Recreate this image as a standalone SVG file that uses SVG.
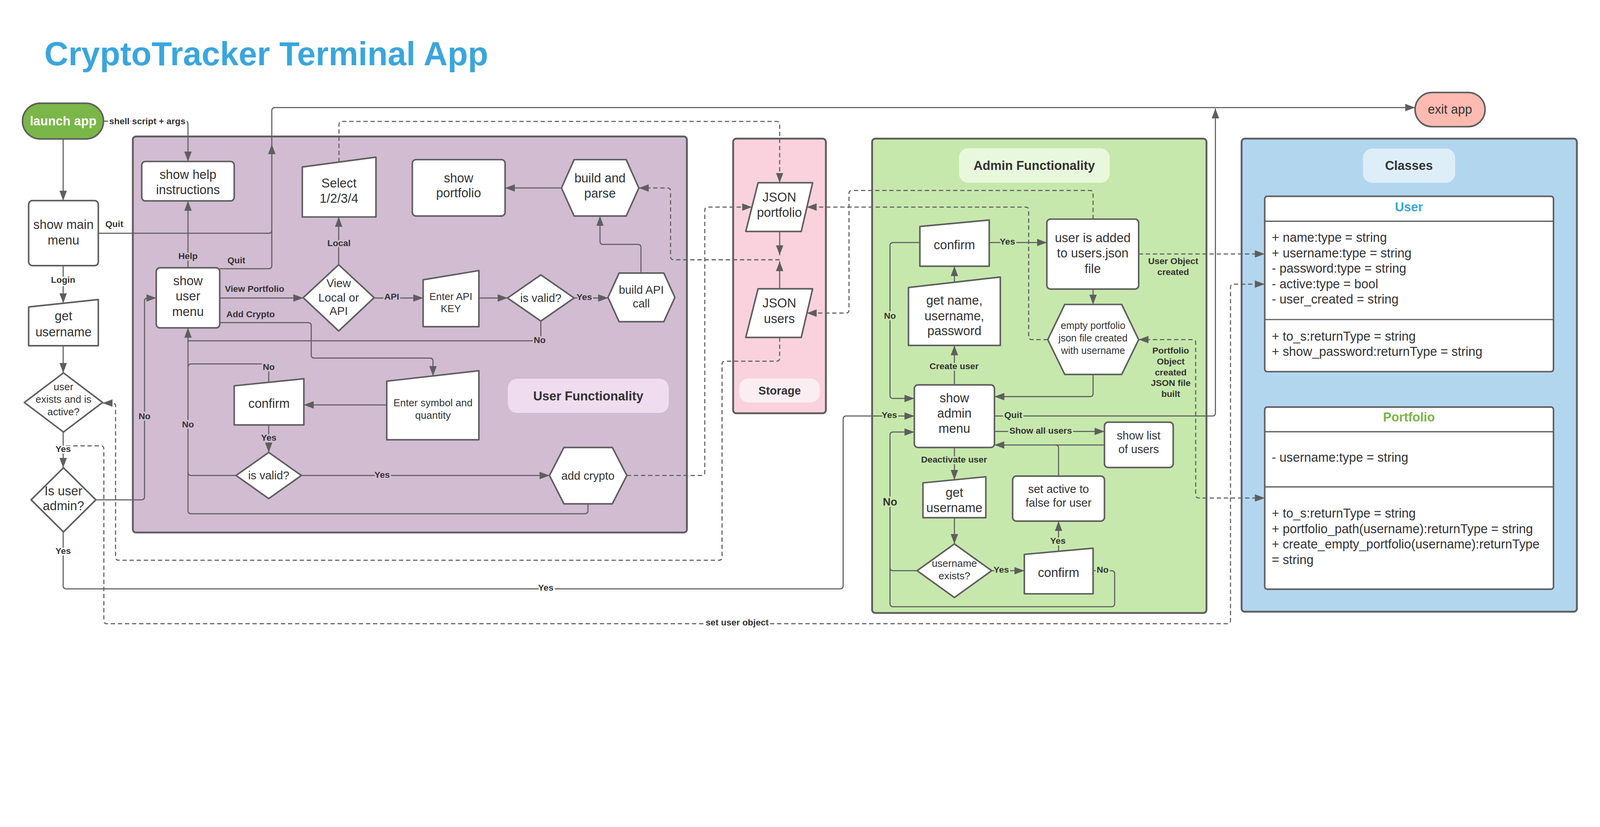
<svg xmlns="http://www.w3.org/2000/svg" width="5192" height="2117" viewBox="0 0 5192 2117">
<defs>
<style>
@media (max-width: 5150px) { :root { width: 100vw; height: 40.775vw; } }
.n{fill:#fff;stroke:#5e5e5e;stroke-width:5;stroke-linejoin:round}
.box{stroke:#5e5e5e;stroke-width:6}
.c{fill:none;stroke:#5e5e5e;stroke-width:3.5;stroke-linejoin:round}
.d{fill:none;stroke:#5e5e5e;stroke-width:3.5;stroke-dasharray:14 9;stroke-linejoin:round}
.t{font-family:"Liberation Sans",Arial,sans-serif;font-size:41px;fill:#333;text-anchor:middle}
.s37{font-size:37px}
.s33{font-size:33px}
.s32{font-size:32px}
.b{font-weight:bold}
.l{font-family:"Liberation Sans",Arial,sans-serif;font-size:29px;font-weight:bold;fill:#333;text-anchor:middle;paint-order:stroke;stroke-width:10px;stroke-linejoin:round}
.lw{stroke:#fff}.lp{stroke:#d1bcd2}.lg{stroke:#c7e8ac}
.cls{font-family:"Liberation Sans",Arial,sans-serif;font-size:41px;fill:#333}
</style>
<marker id="ah" markerUnits="userSpaceOnUse" markerWidth="34" markerHeight="24" refX="32" refY="12" orient="auto-start-reverse"><path d="M0,0 L32,12 L0,24 z" fill="#5e5e5e"/></marker>
</defs>
<rect width="5192" height="2117" fill="#fff"/>
<text id="title" x="144" y="212" font-family="Liberation Sans, Arial, sans-serif" font-weight="bold" font-size="108" fill="#3aa6dd">CryptoTracker Terminal App</text>

<g id="containers">
<g id="user-functionality-area">
<rect class="box" x="431" y="443" width="1798" height="1285" rx="10" fill="#d1bcd2"/>
<rect x="1648" y="1229" width="522" height="111" rx="30" fill="#efdcef"/>
<text class="t b" x="1909" y="1299">User Functionality</text>
</g>
<g id="storage-area">
<rect class="box" x="2379" y="450" width="301" height="891" rx="10" fill="#f9d2de"/>
<rect x="2399" y="1228" width="261" height="78" rx="30" fill="#fbeef3"/>
<text class="t b s37" x="2530" y="1280">Storage</text>
</g>
<g id="admin-area">
<rect class="box" x="2830" y="450" width="1085" height="1539" rx="10" fill="#c7e8ac"/>
<rect x="3112" y="481" width="489" height="112" rx="30" fill="#e8f8dc"/>
<text class="t b" x="3356" y="551">Admin Functionality</text>
</g>
<g id="classes-area">
<rect class="box" x="4029" y="450" width="1088" height="1535" rx="10" fill="#b3d6ef"/>
<rect x="4423" y="482" width="299" height="111" rx="30" fill="#ddeef9"/>
<text class="t b" x="4572" y="551">Classes</text>
</g>
</g>

<g id="connectors">
<path class="c" marker-end="url(#ah)" d="M205,451 V651"/>
<path class="c" marker-end="url(#ah)" d="M205,862 V984"/>
<path class="c" marker-end="url(#ah)" d="M205,1122 V1210"/>
<path class="c" marker-end="url(#ah)" d="M205,1402 V1518"/>
<path class="c" marker-end="url(#ah)" d="M311,1622 H459 Q469,1622 469,1612 V977 Q469,967 479,967 H507"/>
<path class="c" marker-end="url(#ah)" d="M205,1726 V1901 Q205,1911 215,1911 H2726 Q2736,1911 2736,1901 V1360 Q2736,1350 2746,1350 H2967"/>
<path class="c" marker-end="url(#ah)" d="M336,393 H600 Q610,393 610,403 V524"/>
<path class="c" d="M319,757 H872 Q882,757 882,747"/>
<path class="c" marker-end="url(#ah)" d="M713,872 H872 Q882,872 882,862 V359 Q882,349 892,349 H4592"/>
<polygon points="870,500 894,500 882,468" fill="#5e5e5e"/>
<path class="c" marker-end="url(#ah)" d="M610,869 V652"/>
<path class="c" marker-end="url(#ah)" d="M713,967 H984"/>
<path class="c" marker-end="url(#ah)" d="M713,1047 H1000 Q1010,1047 1010,1057 V1152 Q1010,1162 1020,1162 H1395 Q1405,1162 1405,1172 V1220"/>
<path class="c" marker-end="url(#ah)" d="M1099,859 V704"/>
<path class="c" marker-end="url(#ah)" d="M1214,967 H1373"/>
<path class="c" marker-end="url(#ah)" d="M1554,967 H1647"/>
<path class="c" marker-end="url(#ah)" d="M1863,967 H1973"/>
<path class="c" d="M1755,1042 V1096 Q1755,1106 1745,1106 H610"/>
<path class="c" marker-end="url(#ah)" d="M2080,886 V803 Q2080,793 2070,793 H1957 Q1947,793 1947,783 V701"/>
<path class="c" marker-end="url(#ah)" d="M1822,610 H1639"/>
<path class="c" marker-end="url(#ah)" d="M1255,1314 H986"/>
<path class="c" d="M872,1241 V1191 Q872,1181 862,1181 H620 Q610,1181 610,1191"/>
<path class="c" marker-end="url(#ah)" d="M872,1379 V1468"/>
<path class="c" d="M766,1543 H620 Q610,1543 610,1533"/>
<path class="c" marker-end="url(#ah)" d="M978,1543 H1783"/>
<path class="c" marker-end="url(#ah)" d="M1908,1635 V1657 Q1908,1667 1898,1667 H620 Q610,1667 610,1657 V1064"/>
<path class="c" marker-end="url(#ah)" d="M2530,751 V828"/>
<path class="c" marker-end="url(#ah)" d="M2530,937 V848"/>
<path class="c" marker-end="url(#ah)" d="M3097,1249 V1121"/>
<path class="c" marker-end="url(#ah)" d="M3097,916 V864"/>
<path class="c" marker-end="url(#ah)" d="M3210,787 H3397"/>
<path class="c" marker-end="url(#ah)" d="M2985,787 H2898 Q2888,787 2888,797 V1283 Q2888,1293 2898,1293 H2967"/>
<path class="c" marker-end="url(#ah)" d="M3547,938 V988"/>
<path class="c" marker-end="url(#ah)" d="M3547,1215 V1277 Q3547,1287 3537,1287 H3227"/>
<path class="c" marker-end="url(#ah)" d="M3227,1350 H3934 Q3944,1350 3944,1340 V352"/>
<path class="c" marker-end="url(#ah)" d="M3227,1400 H3584"/>
<path class="c" marker-end="url(#ah)" d="M3584,1444 H3227"/>
<path class="c" d="M3435,1545 V1454 Q3435,1444 3425,1444"/>
<path class="c" marker-end="url(#ah)" d="M3097,1452 V1557"/>
<path class="c" marker-end="url(#ah)" d="M3097,1680 V1765"/>
<path class="c" marker-end="url(#ah)" d="M3218,1852 H3324"/>
<path class="c" marker-end="url(#ah)" d="M3435,1789 V1691"/>
<path class="c" marker-end="url(#ah)" d="M3547,1852 H3607 Q3617,1852 3617,1862 V1959 Q3617,1969 3607,1969 H2898 Q2888,1969 2888,1959 V1412 Q2888,1402 2898,1402 H2967"/>
<path class="c" d="M2976,1852 H2898 Q2888,1852 2888,1842"/>

<path class="d" marker-end="url(#ah)" d="M1100,526 V404 Q1100,394 1110,394 H2520 Q2530,394 2530,404 V593"/>
<path class="d" marker-end="url(#ah)" d="M2530,843 H2186 Q2176,843 2176,833 V620 Q2176,610 2166,610 H2073"/>
<path class="d" marker-end="url(#ah)" d="M2034,1543 H2277 Q2287,1543 2287,1533 V682 Q2287,672 2297,672 H2440"/>
<path class="d" marker-end="url(#ah)" d="M3400,1102 H3348 Q3338,1102 3338,1092 V682 Q3338,672 3328,672 H2618"/>
<path class="d" marker-end="url(#ah)" d="M3547,711 V628 Q3547,618 3537,618 H2765 Q2755,618 2755,628 V1006 Q2755,1016 2745,1016 H2618"/>
<path class="d" marker-end="url(#ah)" d="M2530,1095 V1162 Q2530,1172 2520,1172 H2353 Q2343,1172 2343,1182 V1808 Q2343,1818 2333,1818 H385 Q375,1818 375,1808 V1318 Q375,1308 365,1308 H333"/>
<path class="d" marker-end="url(#ah)" d="M3695,824 H4104"/>
<path class="d" marker-start="url(#ah)" marker-end="url(#ah)" d="M3695,1102 H3870 Q3880,1102 3880,1112 V1606 Q3880,1616 3890,1616 H4104"/>
<path class="d" marker-end="url(#ah)" d="M215,1447 H327 Q337,1447 337,1457 V2014 Q337,2024 347,2024 H3983 Q3993,2024 3993,2014 V932 Q3993,922 4003,922 H4104"/>

<g id="labels">
<text class="l lw" x="478" y="403">shell script + args</text>
<text class="l lw" x="371" y="737">Quit</text>
<text class="l lw" x="205" y="918">Login</text>
<text class="l lw" x="205" y="1467">Yes</text>
<text class="l lw" x="205" y="1798">Yes</text>
<text class="l lp" x="469" y="1360">No</text>
<text class="l lp" x="610" y="841">Help</text>
<text class="l lp" x="767" y="854">Quit</text>
<text class="l lp" x="826" y="947">View Portfolio</text>
<text class="l lp" x="813" y="1029">Add Crypto</text>
<text class="l lp" x="1100" y="798">Local</text>
<text class="l lp" x="1271" y="972">API</text>
<text class="l lp" x="1896" y="974">Yes</text>
<text class="l lp" x="1751" y="1113">No</text>
<text class="l lp" x="872" y="1200">No</text>
<text class="l lp" x="872" y="1430">Yes</text>
<text class="l lp" x="610" y="1387">No</text>
<text class="l lp" x="1240" y="1551">Yes</text>
<text class="l lw" x="1771" y="1917">Yes</text>
<text class="l lw" x="2392" y="2030">set user object</text>
<text class="l lg" x="3269" y="793">Yes</text>
<text class="l lg" x="2888" y="1035">No</text>
<text class="l lg" x="3096" y="1198">Create user</text>
<text class="l lg" x="2886" y="1356">Yes</text>
<text class="l lg" x="3288" y="1356">Quit</text>
<text class="l lg" x="3377" y="1407">Show all users</text>
<text class="l lg" x="3096" y="1501">Deactivate user</text>
<text class="l lg" x="2888" y="1640" style="font-size:35px">No</text>
<text class="l lg" x="3249" y="1859">Yes</text>
<text class="l lg" x="3433" y="1764">Yes</text>
<text class="l lg" x="3578" y="1859">No</text>
<text class="l lg" x="3807" y="857">User Object</text>
<text class="l lg" x="3807" y="892">created</text>
<text class="l lg" x="3799" y="1147">Portfolio</text>
<text class="l lg" x="3799" y="1183">Object</text>
<text class="l lg" x="3799" y="1218">created</text>
<text class="l lg" x="3799" y="1253">JSON file</text>
<text class="l lg" x="3799" y="1288">built</text>
</g>
</g>

<g id="launch-app"><rect x="73" y="335" width="263" height="116" rx="58" fill="#7ab648" stroke="#5e5e5e" stroke-width="5"/><text class="t b" x="205" y="407" style="fill:#fff">launch app</text></g>
<g id="show-main-menu"><rect class="n" x="93" y="651" width="226" height="211" rx="12"/><text class="t" x="206" y="743">show main</text><text class="t" x="206" y="793">menu</text></g>
<g id="get-username"><polygon class="n" points="93,996 319,972 319,1122 93,1122"/><text class="t" x="206" y="1040">get</text><text class="t" x="206" y="1091">username</text></g>
<g id="user-exists"><polygon class="n" points="206,1210 333,1306 206,1402 79,1306"/><text class="t s33" x="206" y="1266">user</text><text class="t s33" x="206" y="1307">exists and is</text><text class="t s33" x="206" y="1347">active?</text></g>
<g id="is-admin"><polygon class="n" points="206,1518 311,1622 206,1726 101,1622"/><text class="t" x="206" y="1607">Is user</text><text class="t" x="206" y="1656">admin?</text></g>

<g id="show-help"><rect class="n" x="460" y="524" width="300" height="128" rx="12"/><text class="t" x="610" y="581">show help</text><text class="t" x="610" y="630">instructions</text></g>
<g id="show-user-menu"><rect class="n" x="507" y="869" width="206" height="195" rx="12"/><text class="t" x="610" y="926">show</text><text class="t" x="610" y="975">user</text><text class="t" x="610" y="1025">menu</text></g>
<g id="select"><polygon class="n" points="981,542 1220,510 1220,704 981,704"/><text class="t" x="1100" y="608">Select</text><text class="t" x="1100" y="658">1/2/3/4</text></g>
<g id="show-portfolio"><rect class="n" x="1338" y="518" width="301" height="183" rx="12"/><text class="t" x="1488" y="592">show</text><text class="t" x="1488" y="640">portfolio</text></g>
<g id="build-and-parse"><polygon class="n" points="1822,610 1863,518 2032,518 2073,610 2032,701 1863,701"/><text class="t" x="1947" y="592">build and</text><text class="t" x="1947" y="642">parse</text></g>
<g id="view-local-or-api"><polygon class="n" points="1099,859 1214,966 1099,1074 984,966"/><text class="t s37" x="1099" y="932">View</text><text class="t s37" x="1099" y="979">Local or</text><text class="t s37" x="1099" y="1022">API</text></g>
<g id="enter-api-key"><polygon class="n" points="1373,908 1554,878 1554,1060 1373,1060"/><text class="t s33" x="1463" y="973">Enter API</text><text class="t s33" x="1463" y="1013">KEY</text></g>
<g id="is-valid-api"><polygon class="n" points="1755,892 1863,967 1755,1042 1647,967"/><text class="t s37" x="1755" y="980">is valid?</text></g>
<g id="build-api-call"><polygon class="n" points="1973,965 2009,886 2154,886 2190,965 2154,1044 2009,1044"/><text class="t s37" x="2081" y="953">build API</text><text class="t s37" x="2081" y="998">call</text></g>
<g id="enter-symbol"><polygon class="n" points="1255,1237 1554,1203 1554,1427 1255,1427"/><text class="t s33" x="1405" y="1319">Enter symbol and</text><text class="t s33" x="1405" y="1359">quantity</text></g>
<g id="confirm-add"><polygon class="n" points="760,1252 986,1229 986,1379 760,1379"/><text class="t" x="873" y="1324">confirm</text></g>
<g id="is-valid-add"><polygon class="n" points="872,1468 978,1543 872,1618 766,1543"/><text class="t s37" x="872" y="1556">is valid?</text></g>
<g id="add-crypto"><polygon class="n" points="1783,1543 1830,1452 1987,1452 2034,1543 1987,1635 1830,1635"/><text class="t s37" x="1908" y="1557">add crypto</text></g>

<g id="json-portfolio"><polygon class="n" points="2460,593 2637,593 2600,751 2420,751"/><text class="t" x="2529" y="654">JSON</text><text class="t" x="2529" y="703">portfolio</text></g>
<g id="json-users"><polygon class="n" points="2460,937 2637,937 2600,1095 2420,1095"/><text class="t" x="2529" y="998">JSON</text><text class="t" x="2529" y="1049">users</text></g>

<g id="confirm-create"><polygon class="n" points="2985,735 3210,714 3210,864 2985,864"/><text class="t" x="3097" y="809">confirm</text></g>
<g id="user-added"><rect class="n" x="3397" y="711" width="298" height="227" rx="12"/><text class="t" x="3546" y="786">user is added</text><text class="t" x="3546" y="836">to users.json</text><text class="t" x="3546" y="886">file</text></g>
<g id="get-name"><polygon class="n" points="2948,933 3246,899 3246,1121 2948,1121"/><text class="t" x="3097" y="989">get name,</text><text class="t" x="3097" y="1039">username,</text><text class="t" x="3097" y="1088">password</text></g>
<g id="empty-portfolio"><polygon class="n" points="3400,1102 3455,988 3640,988 3695,1102 3640,1215 3455,1215"/><text class="t s32" x="3547" y="1068">empty portfolio</text><text class="t s32" x="3547" y="1108">json file created</text><text class="t s32" x="3547" y="1148">with username</text></g>
<g id="show-admin-menu"><rect class="n" x="2967" y="1249" width="260" height="203" rx="12"/><text class="t" x="3097" y="1306">show</text><text class="t" x="3097" y="1355">admin</text><text class="t" x="3097" y="1404">menu</text></g>
<g id="show-list"><rect class="n" x="3584" y="1370" width="223" height="147" rx="12"/><text class="t s37" x="3695" y="1426">show list</text><text class="t s37" x="3695" y="1471">of users</text></g>
<g id="set-active"><rect class="n" x="3286" y="1545" width="298" height="146" rx="12"/><text class="t s37" x="3435" y="1600">set active to</text><text class="t s37" x="3435" y="1644">false for user</text></g>
<g id="get-username-admin"><polygon class="n" points="2995,1567 3199,1547 3199,1680 2995,1680"/><text class="t" x="3097" y="1613">get</text><text class="t" x="3097" y="1662">username</text></g>
<g id="username-exists"><polygon class="n" points="3097,1765 3218,1852 3097,1939 2976,1852"/><text class="t s33" x="3097" y="1840">username</text><text class="t s33" x="3097" y="1880">exists?</text></g>
<g id="confirm-deactivate"><polygon class="n" points="3324,1799 3547,1779 3547,1927 3324,1927"/><text class="t" x="3435" y="1873">confirm</text></g>

<g id="exit-app"><rect x="4592" y="300" width="227" height="111" rx="55" fill="#ffbbb1" stroke="#5e5e5e" stroke-width="5"/><text class="t" x="4705" y="369">exit app</text></g>

<g id="class-user">
<rect class="n" x="4104" y="637" width="937" height="569" rx="8"/>
<path class="c" style="stroke-width:4" d="M4104,718 H5041 M4104,1037 H5041"/>
<text class="t b" x="4572" y="686" style="fill:#3aa6dd">User</text>
<text class="cls" x="4127" y="785">+ name:type = string</text>
<text class="cls" x="4127" y="835">+ username:type = string</text>
<text class="cls" x="4127" y="885">- password:type = string</text>
<text class="cls" x="4127" y="935">- active:type = bool</text>
<text class="cls" x="4127" y="985">- user_created = string</text>
<text class="cls" x="4127" y="1105">+ to_s:returnType = string</text>
<text class="cls" x="4127" y="1155">+ show_password:returnType = string</text>
</g>
<g id="class-portfolio">
<rect class="n" x="4104" y="1321" width="937" height="591" rx="8"/>
<path class="c" style="stroke-width:4" d="M4104,1401 H5041 M4104,1580 H5041"/>
<text class="t b" x="4572" y="1368" style="fill:#7ab648">Portfolio</text>
<text class="cls" x="4127" y="1499">- username:type = string</text>
<text class="cls" x="4127" y="1680">+ to_s:returnType = string</text>
<text class="cls" x="4127" y="1730">+ portfolio_path(username):returnType = string</text>
<text class="cls" x="4127" y="1780">+ create_empty_portfolio(username):returnType</text>
<text class="cls" x="4127" y="1830">= string</text>
</g>
</svg>
